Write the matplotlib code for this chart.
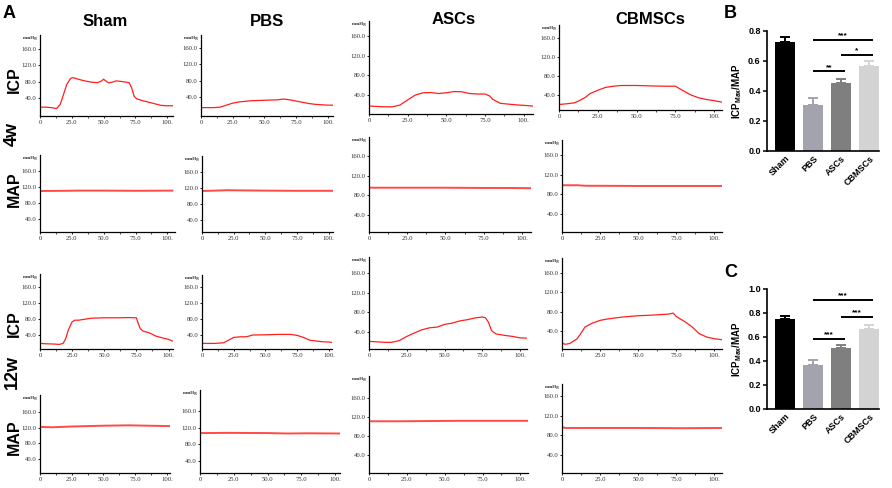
import numpy as np
import matplotlib
matplotlib.use('Agg')
import matplotlib.pyplot as plt

plt.rcParams['font.family'] = ['Liberation Sans', 'DejaVu Sans']
plt.rcParams['mathtext.fontset'] = 'custom'
plt.rcParams['mathtext.rm'] = 'Liberation Sans:bold'
plt.rcParams['mathtext.bf'] = 'Liberation Sans:bold'
plt.rcParams['mathtext.it'] = 'Liberation Sans:bold'

# ---------------- data ----------------
groups = ['Sham', 'PBS', 'ASCs', 'CBMSCs']
row_names = ['ICP', 'MAP', 'ICP', 'MAP']
time_names = ['4w', '12w']

# ICP traces, 4 weeks (time in s, pressure in mmHg)
t_sham_icp4 = [0, 5, 10, 13, 16, 18, 21, 24, 26, 30, 35, 40, 45, 48, 50, 52, 54, 57, 60, 65, 70, 72, 74, 76, 80, 85, 90, 95, 100, 104]
v_sham_icp4 = [17.5, 17.5, 16, 14, 25, 44, 73, 88, 90, 86, 82, 79, 77.5, 81, 86, 81, 77, 79, 82, 80, 77.5, 65, 44, 38, 34, 30, 26, 22, 21, 21]
t_pbs_icp4 = [0, 10, 15, 20, 25, 30, 40, 50, 60, 65, 70, 75, 80, 85, 90, 100, 104]
v_pbs_icp4 = [14, 14, 15, 20, 25, 28, 31, 32, 33, 35, 33, 30, 27, 24, 22, 20, 20]
t_asc_icp4 = [0, 10, 15, 20, 25, 30, 35, 40, 45, 50, 55, 60, 65, 70, 75, 78, 80, 85, 90, 95, 100, 106]
v_asc_icp4 = [17.5, 16, 16, 19.5, 30, 40, 44.5, 45, 43, 44.5, 47, 46.5, 43, 42, 42, 38, 31, 23, 21.5, 20, 19, 17.5]
t_cb_icp4 = [0, 5, 10, 13, 17, 20, 25, 30, 35, 40, 50, 60, 70, 75, 80, 85, 90, 95, 100, 105]
v_cb_icp4 = [20, 21.5, 23.5, 28, 35, 43, 50, 56, 58.5, 60, 60, 59, 58.5, 58.5, 49, 40, 34, 30.5, 28, 25]

# MAP traces, 4 weeks
t_sham_map4 = [0, 20, 30, 50, 75, 104]
v_sham_map4 = [110, 110.5, 111, 111, 110.5, 111]
t_pbs_map4 = [0, 10, 20, 50, 75, 104]
v_pbs_map4 = [112, 113, 114, 113, 112.5, 112.5]
t_asc_map4 = [0, 25, 50, 75, 90, 106]
v_asc_map4 = [95.5, 95.5, 95.5, 95, 95, 94.5]
t_cb_map4 = [0, 10, 15, 50, 75, 105]
v_cb_map4 = [98.5, 98.5, 97.5, 97, 97, 97]

# ICP traces, 12 weeks
t_sham_icp12 = [0, 5, 10, 15, 18, 20, 22, 25, 27, 30, 35, 40, 50, 60, 70, 75, 76, 78, 80, 85, 90, 95, 100, 103]
v_sham_icp12 = [19, 18, 17.5, 16.5, 19, 31, 52, 73, 77, 77, 79.5, 82, 83, 83, 83.5, 83, 73, 56, 50, 45.5, 37.5, 33, 29, 25]
t_pbs_icp12 = [0, 10, 17, 20, 25, 30, 35, 40, 50, 60, 70, 75, 80, 85, 90, 95, 100, 102]
v_pbs_icp12 = [19, 19, 20.5, 25.5, 34, 35.5, 35.5, 40, 40.5, 41.5, 41.5, 39, 34, 27, 25, 23, 22.5, 21.5]
t_asc_icp12 = [0, 10, 15, 20, 25, 30, 35, 40, 45, 50, 55, 60, 65, 70, 75, 77, 79, 81, 84, 90, 95, 100, 104]
v_asc_icp12 = [21, 19, 19, 22.5, 31, 38, 44.5, 48.5, 50, 55.5, 58, 62.5, 65, 68.5, 70.5, 69, 60, 43, 36, 33, 31, 28, 27.5]
t_cb_icp12 = [0, 2, 5, 10, 13, 15, 20, 25, 30, 40, 50, 60, 70, 73, 75, 80, 85, 90, 95, 100, 105]
v_cb_icp12 = [15, 12.5, 14, 24, 38, 48, 56.5, 62, 65, 69, 71.5, 73, 75, 77, 70, 60.5, 49.5, 34.5, 27.5, 24, 22]

# MAP traces, 12 weeks
t_sham_map12 = [0, 10, 25, 50, 70, 85, 102]
v_sham_map12 = [122, 121, 123, 125, 126, 125, 124]
t_pbs_map12 = [0, 20, 50, 65, 80, 103]
v_pbs_map12 = [107, 107.5, 107, 106, 106.5, 106]
t_asc_map12 = [0, 20, 40, 60, 80, 106]
v_asc_map12 = [111, 111, 111.5, 112, 112, 112]
t_cb_map12 = [0, 2, 25, 50, 80, 105]
v_cb_map12 = [97, 95, 95, 95, 94.5, 95]

trace_y_ticks = [40, 80, 120, 160]
trace_y_labels = ['40.0', '80.0', '120.0', '160.0']
trace_x_ticks = [0, 25, 50, 75, 100]
trace_x_labels = ['0', '25.0', '50.0', '75.0', '100.']

# bar charts
ratio_4w = [0.725, 0.307, 0.451, 0.567]
err_4w = [0.035, 0.043, 0.029, 0.031]
ratio_12w = [0.749, 0.370, 0.507, 0.668]
err_12w = [0.022, 0.040, 0.028, 0.032]
sig_pairs = [(1, 3), (2, 3), (1, 2)]
sig_y_4w = [0.74, 0.64, 0.53]
sig_marks_4w = ['***', '*', '**']
sig_y_12w = [0.91, 0.765, 0.585]
sig_marks_12w = ['***', '***', '***']

# ---------------- layout ----------------
W, H = 892, 488
fig = plt.figure(figsize=(W / 100, H / 100), dpi=100)
RED = '#ff1f1f'
MAP_RED = '#ff4a4a'
bar_colors = ['#000000', '#a3a3ae', '#7f7f7f', '#d3d3d3']


def rect(l, t, r, b):
    return [l / W, 1 - b / H, (r - l) / W, (b - t) / H]


def trace_panel(box, y40, y160, xmax, times, values, lw=0.9, color=RED):
    l, t, r, b = box
    ax = fig.add_axes(rect(l, t, r, b))
    s = (y40 - y160) / 120.0
    ax.set_ylim(40 - (b - y40) / s, 160 + (y160 - t) / s)
    ax.set_xlim(0, xmax)
    ax.plot(times, values, color=color, lw=lw, solid_joinstyle='round')
    ax.spines['top'].set_visible(False)
    ax.spines['right'].set_visible(False)
    for sp in ['left', 'bottom']:
        ax.spines[sp].set_linewidth(0.9)
    ax.set_yticks(trace_y_ticks)
    ax.set_yticklabels(trace_y_labels)
    ax.set_xticks(trace_x_ticks)
    ax.set_xticklabels(trace_x_labels)
    ax.set_xticks([12.5, 37.5, 62.5, 87.5], minor=True)
    ax.tick_params(axis='both', which='major', labelsize=4.8, length=1.6, width=0.6, pad=1.2,
                   labelcolor='#303030')
    ax.tick_params(axis='x', which='minor', length=1.2, width=0.5)
    for lab in ax.get_xticklabels() + ax.get_yticklabels():
        lab.set_family('Liberation Serif')
    ax.annotate('mmHg', xy=(0, 1), xycoords='axes fraction', xytext=(-2, -1),
                textcoords='offset points', ha='right', va='top', fontsize=3.6,
                family='Liberation Serif', weight='bold', color='#303030')
    ax.patch.set_alpha(0)
    return ax


# ICP 4w
trace_panel((40, 35, 173, 116), 98, 49, 104.5, t_sham_icp4, v_sham_icp4)
trace_panel((201, 35, 333, 116), 97, 48, 104, t_pbs_icp4, v_pbs_icp4)
trace_panel((369, 21, 533, 114), 95, 36, 106, t_asc_icp4, v_asc_icp4)
trace_panel((559, 25, 722, 110), 95, 38, 105, t_cb_icp4, v_cb_icp4)
# MAP 4w
trace_panel((40, 155, 175, 232), 219, 171, 106, t_sham_map4, v_sham_map4, lw=1.4, color=MAP_RED)
trace_panel((202, 156, 333, 232), 220, 171.7, 103.5, t_pbs_map4, v_pbs_map4, lw=1.4, color=MAP_RED)
trace_panel((369, 137, 531, 232), 215, 156, 106, t_asc_map4, v_asc_map4, lw=1.4, color=MAP_RED)
trace_panel((562, 140, 722, 232), 214, 155, 105, t_cb_map4, v_cb_map4, lw=1.4, color=MAP_RED)
# ICP 12w
trace_panel((40, 274, 173, 349), 335, 287, 103.5, t_sham_icp12, v_sham_icp12)
trace_panel((202, 275, 332, 349), 335, 287, 102.5, t_pbs_icp12, v_pbs_icp12)
trace_panel((369, 257, 527, 349), 332, 273, 104.5, t_asc_icp12, v_asc_icp12)
trace_panel((562, 258, 722, 349), 331, 273, 105, t_cb_icp12, v_cb_icp12)
# MAP 12w
trace_panel((40, 395, 170, 473), 459, 412, 102.5, t_sham_map12, v_sham_map12, lw=1.4, color=MAP_RED)
trace_panel((200, 390, 340, 473), 461, 411, 103.7, t_pbs_map12, v_pbs_map12, lw=1.4, color=MAP_RED)
trace_panel((369, 376, 528, 473), 455, 398, 105, t_asc_map12, v_asc_map12, lw=1.4, color=MAP_RED)
trace_panel((562, 384, 722, 473), 455, 396, 105, t_cb_map12, v_cb_map12, lw=1.4, color=MAP_RED)

# column titles
for name, (x, y) in zip(groups, [(105, 21), (267, 21), (454, 19), (650, 20)]):
    fig.text(x / W, 1 - y / H, name, ha='center', va='center', fontsize=12, fontweight='bold')

# row labels
for name, y in zip(row_names, [80, 189, 324, 437]):
    fig.text(14 / W, 1 - y / H, name, ha='center', va='center', rotation=90,
             fontsize=11.5, fontweight='bold')
for name, y in zip(time_names, [134, 372]):
    fig.text(12 / W, 1 - y / H, name, ha='center', va='center', rotation=90,
             fontsize=13, fontweight='bold')

# panel letters
fig.text(3 / W, 1 - 18 / H, 'A', fontsize=13, fontweight='bold', va='baseline')
fig.text(724 / W, 1 - 18 / H, 'B', fontsize=13, fontweight='bold', va='baseline')
fig.text(724 / W, 1 - 277 / H, 'C', fontsize=13, fontweight='bold', va='baseline')


def bar_panel(box, ymax, yticks, vals, errs, sig_y, sig_marks):
    ax = fig.add_axes(rect(*box))
    x = np.arange(len(groups))
    ax.bar(x, vals, width=0.7, color=bar_colors, edgecolor='none')
    for i in range(len(groups)):
        ax.errorbar(x[i], vals[i], yerr=[[0], [errs[i]]], fmt='none', ecolor=bar_colors[i],
                    elinewidth=1.4, capsize=3.4, capthick=1.4)
    ax.set_xlim(-0.65, 3.35)
    ax.set_ylim(0, ymax)
    ax.spines['top'].set_visible(False)
    ax.spines['right'].set_visible(False)
    for sp in ['left', 'bottom']:
        ax.spines[sp].set_linewidth(1.2)
    ax.set_yticks(yticks)
    ax.set_yticklabels(['%.1f' % v for v in yticks])
    ax.set_xticks(x)
    ax.set_xticklabels(groups, rotation=45, ha='right', rotation_mode='anchor')
    ax.tick_params(axis='both', labelsize=6.5, length=3, width=1.1, pad=1.5)
    ax.tick_params(axis='x', length=0, pad=2)
    for lab in ax.get_xticklabels() + ax.get_yticklabels():
        lab.set_fontweight('bold')
    ax.set_ylabel(r'ICP$_{\mathrm{Max}}$/MAP', fontsize=7, fontweight='bold', labelpad=3)
    for (i, j), yv, mk in zip(sig_pairs, sig_y, sig_marks):
        ax.plot([i, j + 0.12], [yv, yv], color='black', lw=1.4, clip_on=False,
                solid_capstyle='butt')
        ax.text((i + j + 0.12) / 2, yv + ymax * 0.006, mk, ha='center', va='bottom',
                fontsize=6, fontweight='bold', clip_on=False)
    ax.patch.set_alpha(0)
    return ax


bar_panel((767, 31, 879, 151), 0.8, [0.0, 0.2, 0.4, 0.6, 0.8], ratio_4w, err_4w,
          sig_y_4w, sig_marks_4w)
bar_panel((767, 289, 879, 409), 1.0, [0.0, 0.2, 0.4, 0.6, 0.8, 1.0], ratio_12w, err_12w,
          sig_y_12w, sig_marks_12w)

fig.savefig('out.png', dpi=100)
